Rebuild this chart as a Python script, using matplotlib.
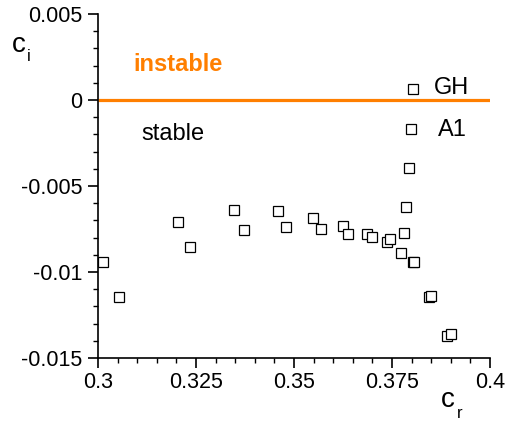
import matplotlib.pyplot as plt
from matplotlib.ticker import MultipleLocator, FixedLocator

plt.rcParams['font.family'] = ['Liberation Sans', 'DejaVu Sans']

# eigenvalues (c_r, c_i)
cr = [0.3013, 0.3054, 0.3204, 0.3235, 0.3347, 0.3372, 0.3459, 0.3480,
      0.3548, 0.3569, 0.3624, 0.3639, 0.3685, 0.3698, 0.3736, 0.3746,
      0.3781, 0.3772, 0.3786, 0.3793, 0.3804, 0.3805, 0.3844, 0.3849,
      0.3891, 0.3900, 0.3804, 0.3798]
ci = [-0.00942, -0.01145, -0.00709, -0.00855, -0.00640, -0.00756, -0.00645, -0.00738,
      -0.00686, -0.00750, -0.00733, -0.00781, -0.00779, -0.00798, -0.00827, -0.00806,
      -0.00775, -0.00891, -0.00620, -0.00397, -0.00942, -0.00940, -0.01143, -0.01138,
      -0.01372, -0.01360, 0.00064, -0.00168]

labels = ['GH', 'A1']
label_x = [0.3858, 0.3866]
label_y = [0.00070, -0.00175]

xticks = [0.3, 0.325, 0.35, 0.375, 0.4]
xticklabels = ['0.3', '0.325', '0.35', '0.375', '0.4']
yticks = [0.005, 0, -0.005, -0.01, -0.015]
yticklabels = ['0.005', '0', '-0.005', '-0.01', '-0.015']

fig = plt.figure(figsize=(5.08, 4.24), dpi=100)
ax = fig.add_axes([98 / 508, 66 / 424, 392 / 508, 344 / 424])

ax.plot([0.3, 0.4], [0, 0], color='#FF7F00', lw=2.3, zorder=1, solid_capstyle='butt')
ax.plot(cr, ci, ls='none', marker='s', ms=7.5, mfc='white', mec='black', mew=0.9,
        zorder=3, clip_on=False)

for t, x, y in zip(labels, label_x, label_y):
    ax.text(x, y, t, fontsize=17, va='center', ha='left')

ax.text(0.3089, 0.00205, 'instable', color='#FF7F00', fontsize=17, fontweight='bold',
        va='center', ha='left')
ax.text(0.3110, -0.00195, 'stable', color='black', fontsize=17, va='center', ha='left')

ax.set_xlim(0.3, 0.4)
ax.set_ylim(-0.015, 0.005)
ax.xaxis.set_major_locator(FixedLocator(xticks))
ax.set_xticklabels(xticklabels)
ax.yaxis.set_major_locator(FixedLocator(yticks))
ax.set_yticklabels(yticklabels)
ax.xaxis.set_minor_locator(MultipleLocator(0.005))
ax.yaxis.set_minor_locator(MultipleLocator(0.001))

ax.spines['top'].set_visible(False)
ax.spines['right'].set_visible(False)
ax.spines['left'].set_linewidth(1.2)
ax.spines['bottom'].set_linewidth(1.2)
ax.tick_params(which='major', direction='out', length=7, width=1.2, labelsize=15.5)
ax.tick_params(axis='y', which='major', pad=4.5)
ax.tick_params(axis='x', which='major', pad=3)
ax.tick_params(which='minor', direction='out', length=3.6, width=1.0)

# axis labels: c with a lowered subscript
fig.text(12 / 508, 1 - 52 / 424, 'c', fontsize=20, ha='left', va='baseline')
fig.text(27 / 508, 1 - 61 / 424, 'i', fontsize=12, ha='left', va='baseline')
fig.text(441 / 508, 1 - 407 / 424, 'c', fontsize=20, ha='left', va='baseline')
fig.text(457 / 508, 1 - 418 / 424, 'r', fontsize=12, ha='left', va='baseline')

fig.savefig('out.png', dpi=100)
